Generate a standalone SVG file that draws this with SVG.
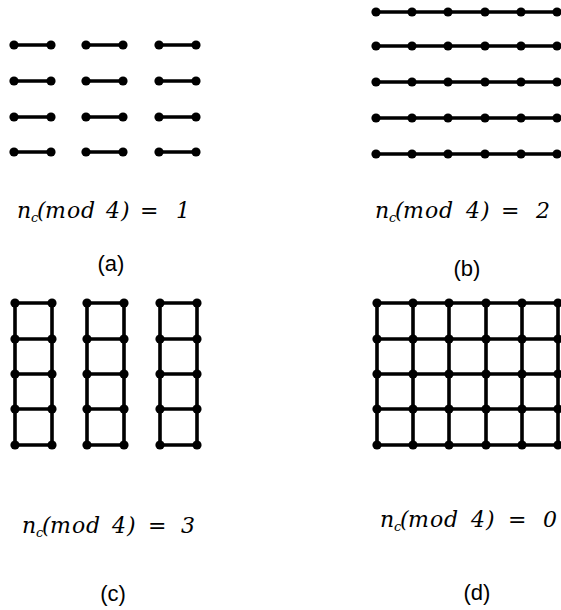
<svg xmlns="http://www.w3.org/2000/svg" width="561" height="610" viewBox="0 0 561 610">
<style>
.e{stroke:#000;stroke-width:3.6;stroke-linecap:round;fill:none}
.n{fill:#000}
.m{font-family:"DejaVu Serif","Liberation Serif",serif;font-style:italic;font-size:22px;fill:#000}
.m .s{font-size:13px}
.m .u{font-style:normal}
.p{font-family:"Liberation Sans","DejaVu Sans",sans-serif;font-size:22px;fill:#000;text-anchor:middle}
</style>
<defs><circle id="dot" r="4.6"/></defs>
<rect width="561" height="610" fill="#fff"/>

<!-- connectors -->
<g id="connectors" class="e">
  <!-- (a) -->
  <path d="M14 45H51M86 45H123M159 45H196M14 81H51M86 81H123M159 81H196M14 117H51M86 117H123M159 117H196M14 152H51M86 152H123M159 152H196"/>
  <!-- (b) -->
  <path d="M376 12H557M376 46H557M376 82H557M376 118H557M376 154H557"/>
  <!-- (c) -->
  <path d="M15 303V445M52 303V445M15 303H52M15 339H52M15 374H52M15 409H52M15 445H52"/>
  <path d="M87 303V445M124 303V445M87 303H124M87 339H124M87 374H124M87 409H124M87 445H124"/>
  <path d="M160 303V445M197 303V445M160 303H197M160 339H197M160 374H197M160 409H197M160 445H197"/>
  <!-- (d) -->
  <path d="M377 303V445M413 303V445M449 303V445M486 303V445M522 303V445M558 303V445M377 303H558M377 339H558M377 374H558M377 409H558M377 445H558"/>
</g>

<!-- nodes (a) -->
<g id="a-1-1" class="n"><use href="#dot" x="14" y="45"/></g><g id="a-1-2" class="n"><use href="#dot" x="51" y="45"/></g>
<g id="a-1-3" class="n"><use href="#dot" x="86" y="45"/></g><g id="a-1-4" class="n"><use href="#dot" x="123" y="45"/></g>
<g id="a-1-5" class="n"><use href="#dot" x="159" y="45"/></g><g id="a-1-6" class="n"><use href="#dot" x="196" y="45"/></g>
<g id="a-2-1" class="n"><use href="#dot" x="14" y="81"/></g><g id="a-2-2" class="n"><use href="#dot" x="51" y="81"/></g>
<g id="a-2-3" class="n"><use href="#dot" x="86" y="81"/></g><g id="a-2-4" class="n"><use href="#dot" x="123" y="81"/></g>
<g id="a-2-5" class="n"><use href="#dot" x="159" y="81"/></g><g id="a-2-6" class="n"><use href="#dot" x="196" y="81"/></g>
<g id="a-3-1" class="n"><use href="#dot" x="14" y="117"/></g><g id="a-3-2" class="n"><use href="#dot" x="51" y="117"/></g>
<g id="a-3-3" class="n"><use href="#dot" x="86" y="117"/></g><g id="a-3-4" class="n"><use href="#dot" x="123" y="117"/></g>
<g id="a-3-5" class="n"><use href="#dot" x="159" y="117"/></g><g id="a-3-6" class="n"><use href="#dot" x="196" y="117"/></g>
<g id="a-4-1" class="n"><use href="#dot" x="14" y="152"/></g><g id="a-4-2" class="n"><use href="#dot" x="51" y="152"/></g>
<g id="a-4-3" class="n"><use href="#dot" x="86" y="152"/></g><g id="a-4-4" class="n"><use href="#dot" x="123" y="152"/></g>
<g id="a-4-5" class="n"><use href="#dot" x="159" y="152"/></g><g id="a-4-6" class="n"><use href="#dot" x="196" y="152"/></g>

<!-- nodes (b) -->
<g id="b-1-1" class="n"><use href="#dot" x="376" y="12"/></g><g id="b-1-2" class="n"><use href="#dot" x="412" y="12"/></g><g id="b-1-3" class="n"><use href="#dot" x="448" y="12"/></g><g id="b-1-4" class="n"><use href="#dot" x="485" y="12"/></g><g id="b-1-5" class="n"><use href="#dot" x="521" y="12"/></g><g id="b-1-6" class="n"><use href="#dot" x="557" y="12"/></g>
<g id="b-2-1" class="n"><use href="#dot" x="376" y="46"/></g><g id="b-2-2" class="n"><use href="#dot" x="412" y="46"/></g><g id="b-2-3" class="n"><use href="#dot" x="448" y="46"/></g><g id="b-2-4" class="n"><use href="#dot" x="485" y="46"/></g><g id="b-2-5" class="n"><use href="#dot" x="521" y="46"/></g><g id="b-2-6" class="n"><use href="#dot" x="557" y="46"/></g>
<g id="b-3-1" class="n"><use href="#dot" x="376" y="82"/></g><g id="b-3-2" class="n"><use href="#dot" x="412" y="82"/></g><g id="b-3-3" class="n"><use href="#dot" x="448" y="82"/></g><g id="b-3-4" class="n"><use href="#dot" x="485" y="82"/></g><g id="b-3-5" class="n"><use href="#dot" x="521" y="82"/></g><g id="b-3-6" class="n"><use href="#dot" x="557" y="82"/></g>
<g id="b-4-1" class="n"><use href="#dot" x="376" y="118"/></g><g id="b-4-2" class="n"><use href="#dot" x="412" y="118"/></g><g id="b-4-3" class="n"><use href="#dot" x="448" y="118"/></g><g id="b-4-4" class="n"><use href="#dot" x="485" y="118"/></g><g id="b-4-5" class="n"><use href="#dot" x="521" y="118"/></g><g id="b-4-6" class="n"><use href="#dot" x="557" y="118"/></g>
<g id="b-5-1" class="n"><use href="#dot" x="376" y="154"/></g><g id="b-5-2" class="n"><use href="#dot" x="412" y="154"/></g><g id="b-5-3" class="n"><use href="#dot" x="448" y="154"/></g><g id="b-5-4" class="n"><use href="#dot" x="485" y="154"/></g><g id="b-5-5" class="n"><use href="#dot" x="521" y="154"/></g><g id="b-5-6" class="n"><use href="#dot" x="557" y="154"/></g>

<!-- nodes (c) -->
<g id="c-1-1" class="n"><use href="#dot" x="15" y="303"/></g><g id="c-1-2" class="n"><use href="#dot" x="52" y="303"/></g><g id="c-1-3" class="n"><use href="#dot" x="87" y="303"/></g><g id="c-1-4" class="n"><use href="#dot" x="124" y="303"/></g><g id="c-1-5" class="n"><use href="#dot" x="160" y="303"/></g><g id="c-1-6" class="n"><use href="#dot" x="197" y="303"/></g>
<g id="c-2-1" class="n"><use href="#dot" x="15" y="339"/></g><g id="c-2-2" class="n"><use href="#dot" x="52" y="339"/></g><g id="c-2-3" class="n"><use href="#dot" x="87" y="339"/></g><g id="c-2-4" class="n"><use href="#dot" x="124" y="339"/></g><g id="c-2-5" class="n"><use href="#dot" x="160" y="339"/></g><g id="c-2-6" class="n"><use href="#dot" x="197" y="339"/></g>
<g id="c-3-1" class="n"><use href="#dot" x="15" y="374"/></g><g id="c-3-2" class="n"><use href="#dot" x="52" y="374"/></g><g id="c-3-3" class="n"><use href="#dot" x="87" y="374"/></g><g id="c-3-4" class="n"><use href="#dot" x="124" y="374"/></g><g id="c-3-5" class="n"><use href="#dot" x="160" y="374"/></g><g id="c-3-6" class="n"><use href="#dot" x="197" y="374"/></g>
<g id="c-4-1" class="n"><use href="#dot" x="15" y="409"/></g><g id="c-4-2" class="n"><use href="#dot" x="52" y="409"/></g><g id="c-4-3" class="n"><use href="#dot" x="87" y="409"/></g><g id="c-4-4" class="n"><use href="#dot" x="124" y="409"/></g><g id="c-4-5" class="n"><use href="#dot" x="160" y="409"/></g><g id="c-4-6" class="n"><use href="#dot" x="197" y="409"/></g>
<g id="c-5-1" class="n"><use href="#dot" x="15" y="445"/></g><g id="c-5-2" class="n"><use href="#dot" x="52" y="445"/></g><g id="c-5-3" class="n"><use href="#dot" x="87" y="445"/></g><g id="c-5-4" class="n"><use href="#dot" x="124" y="445"/></g><g id="c-5-5" class="n"><use href="#dot" x="160" y="445"/></g><g id="c-5-6" class="n"><use href="#dot" x="197" y="445"/></g>

<!-- nodes (d) -->
<g id="d-1-1" class="n"><use href="#dot" x="377" y="303"/></g><g id="d-1-2" class="n"><use href="#dot" x="413" y="303"/></g><g id="d-1-3" class="n"><use href="#dot" x="449" y="303"/></g><g id="d-1-4" class="n"><use href="#dot" x="486" y="303"/></g><g id="d-1-5" class="n"><use href="#dot" x="522" y="303"/></g><g id="d-1-6" class="n"><use href="#dot" x="558" y="303"/></g>
<g id="d-2-1" class="n"><use href="#dot" x="377" y="339"/></g><g id="d-2-2" class="n"><use href="#dot" x="413" y="339"/></g><g id="d-2-3" class="n"><use href="#dot" x="449" y="339"/></g><g id="d-2-4" class="n"><use href="#dot" x="486" y="339"/></g><g id="d-2-5" class="n"><use href="#dot" x="522" y="339"/></g><g id="d-2-6" class="n"><use href="#dot" x="558" y="339"/></g>
<g id="d-3-1" class="n"><use href="#dot" x="377" y="374"/></g><g id="d-3-2" class="n"><use href="#dot" x="413" y="374"/></g><g id="d-3-3" class="n"><use href="#dot" x="449" y="374"/></g><g id="d-3-4" class="n"><use href="#dot" x="486" y="374"/></g><g id="d-3-5" class="n"><use href="#dot" x="522" y="374"/></g><g id="d-3-6" class="n"><use href="#dot" x="558" y="374"/></g>
<g id="d-4-1" class="n"><use href="#dot" x="377" y="409"/></g><g id="d-4-2" class="n"><use href="#dot" x="413" y="409"/></g><g id="d-4-3" class="n"><use href="#dot" x="449" y="409"/></g><g id="d-4-4" class="n"><use href="#dot" x="486" y="409"/></g><g id="d-4-5" class="n"><use href="#dot" x="522" y="409"/></g><g id="d-4-6" class="n"><use href="#dot" x="558" y="409"/></g>
<g id="d-5-1" class="n"><use href="#dot" x="377" y="445"/></g><g id="d-5-2" class="n"><use href="#dot" x="413" y="445"/></g><g id="d-5-3" class="n"><use href="#dot" x="449" y="445"/></g><g id="d-5-4" class="n"><use href="#dot" x="486" y="445"/></g><g id="d-5-5" class="n"><use href="#dot" x="522" y="445"/></g><g id="d-5-6" class="n"><use href="#dot" x="558" y="445"/></g>

<!-- labels -->
<g id="labels">
  <text class="m" y="218"><tspan x="17">n</tspan><tspan class="s" x="31" dy="4">c</tspan><tspan x="37" dy="-4">(</tspan><tspan x="45">m</tspan><tspan x="67">o</tspan><tspan x="81">d</tspan><tspan x="106">4</tspan><tspan x="121">)</tspan><tspan class="u" x="140">=</tspan><tspan x="176">1</tspan></text>
  <text class="m" y="218"><tspan x="375">n</tspan><tspan class="s" x="389" dy="4">c</tspan><tspan x="395" dy="-4">(</tspan><tspan x="403">m</tspan><tspan x="425">o</tspan><tspan x="439">d</tspan><tspan x="466">4</tspan><tspan x="481">)</tspan><tspan class="u" x="501">=</tspan><tspan x="536">2</tspan></text>
  <text class="m" y="533"><tspan x="22">n</tspan><tspan class="s" x="36" dy="4">c</tspan><tspan x="42" dy="-4">(</tspan><tspan x="50">m</tspan><tspan x="72">o</tspan><tspan x="86">d</tspan><tspan x="112">4</tspan><tspan x="127">)</tspan><tspan class="u" x="148">=</tspan><tspan x="181">3</tspan></text>
  <text class="m" y="527"><tspan x="380">n</tspan><tspan class="s" x="394" dy="4">c</tspan><tspan x="400" dy="-4">(</tspan><tspan x="408">m</tspan><tspan x="430">o</tspan><tspan x="444">d</tspan><tspan x="471">4</tspan><tspan x="486">)</tspan><tspan class="u" x="508">=</tspan><tspan x="543">0</tspan></text>
  <text class="p" x="111" y="271">(a)</text>
  <text class="p" x="467" y="276">(b)</text>
  <text class="p" x="113" y="601">(c)</text>
  <text class="p" x="477" y="600">(d)</text>
</g>
</svg>
